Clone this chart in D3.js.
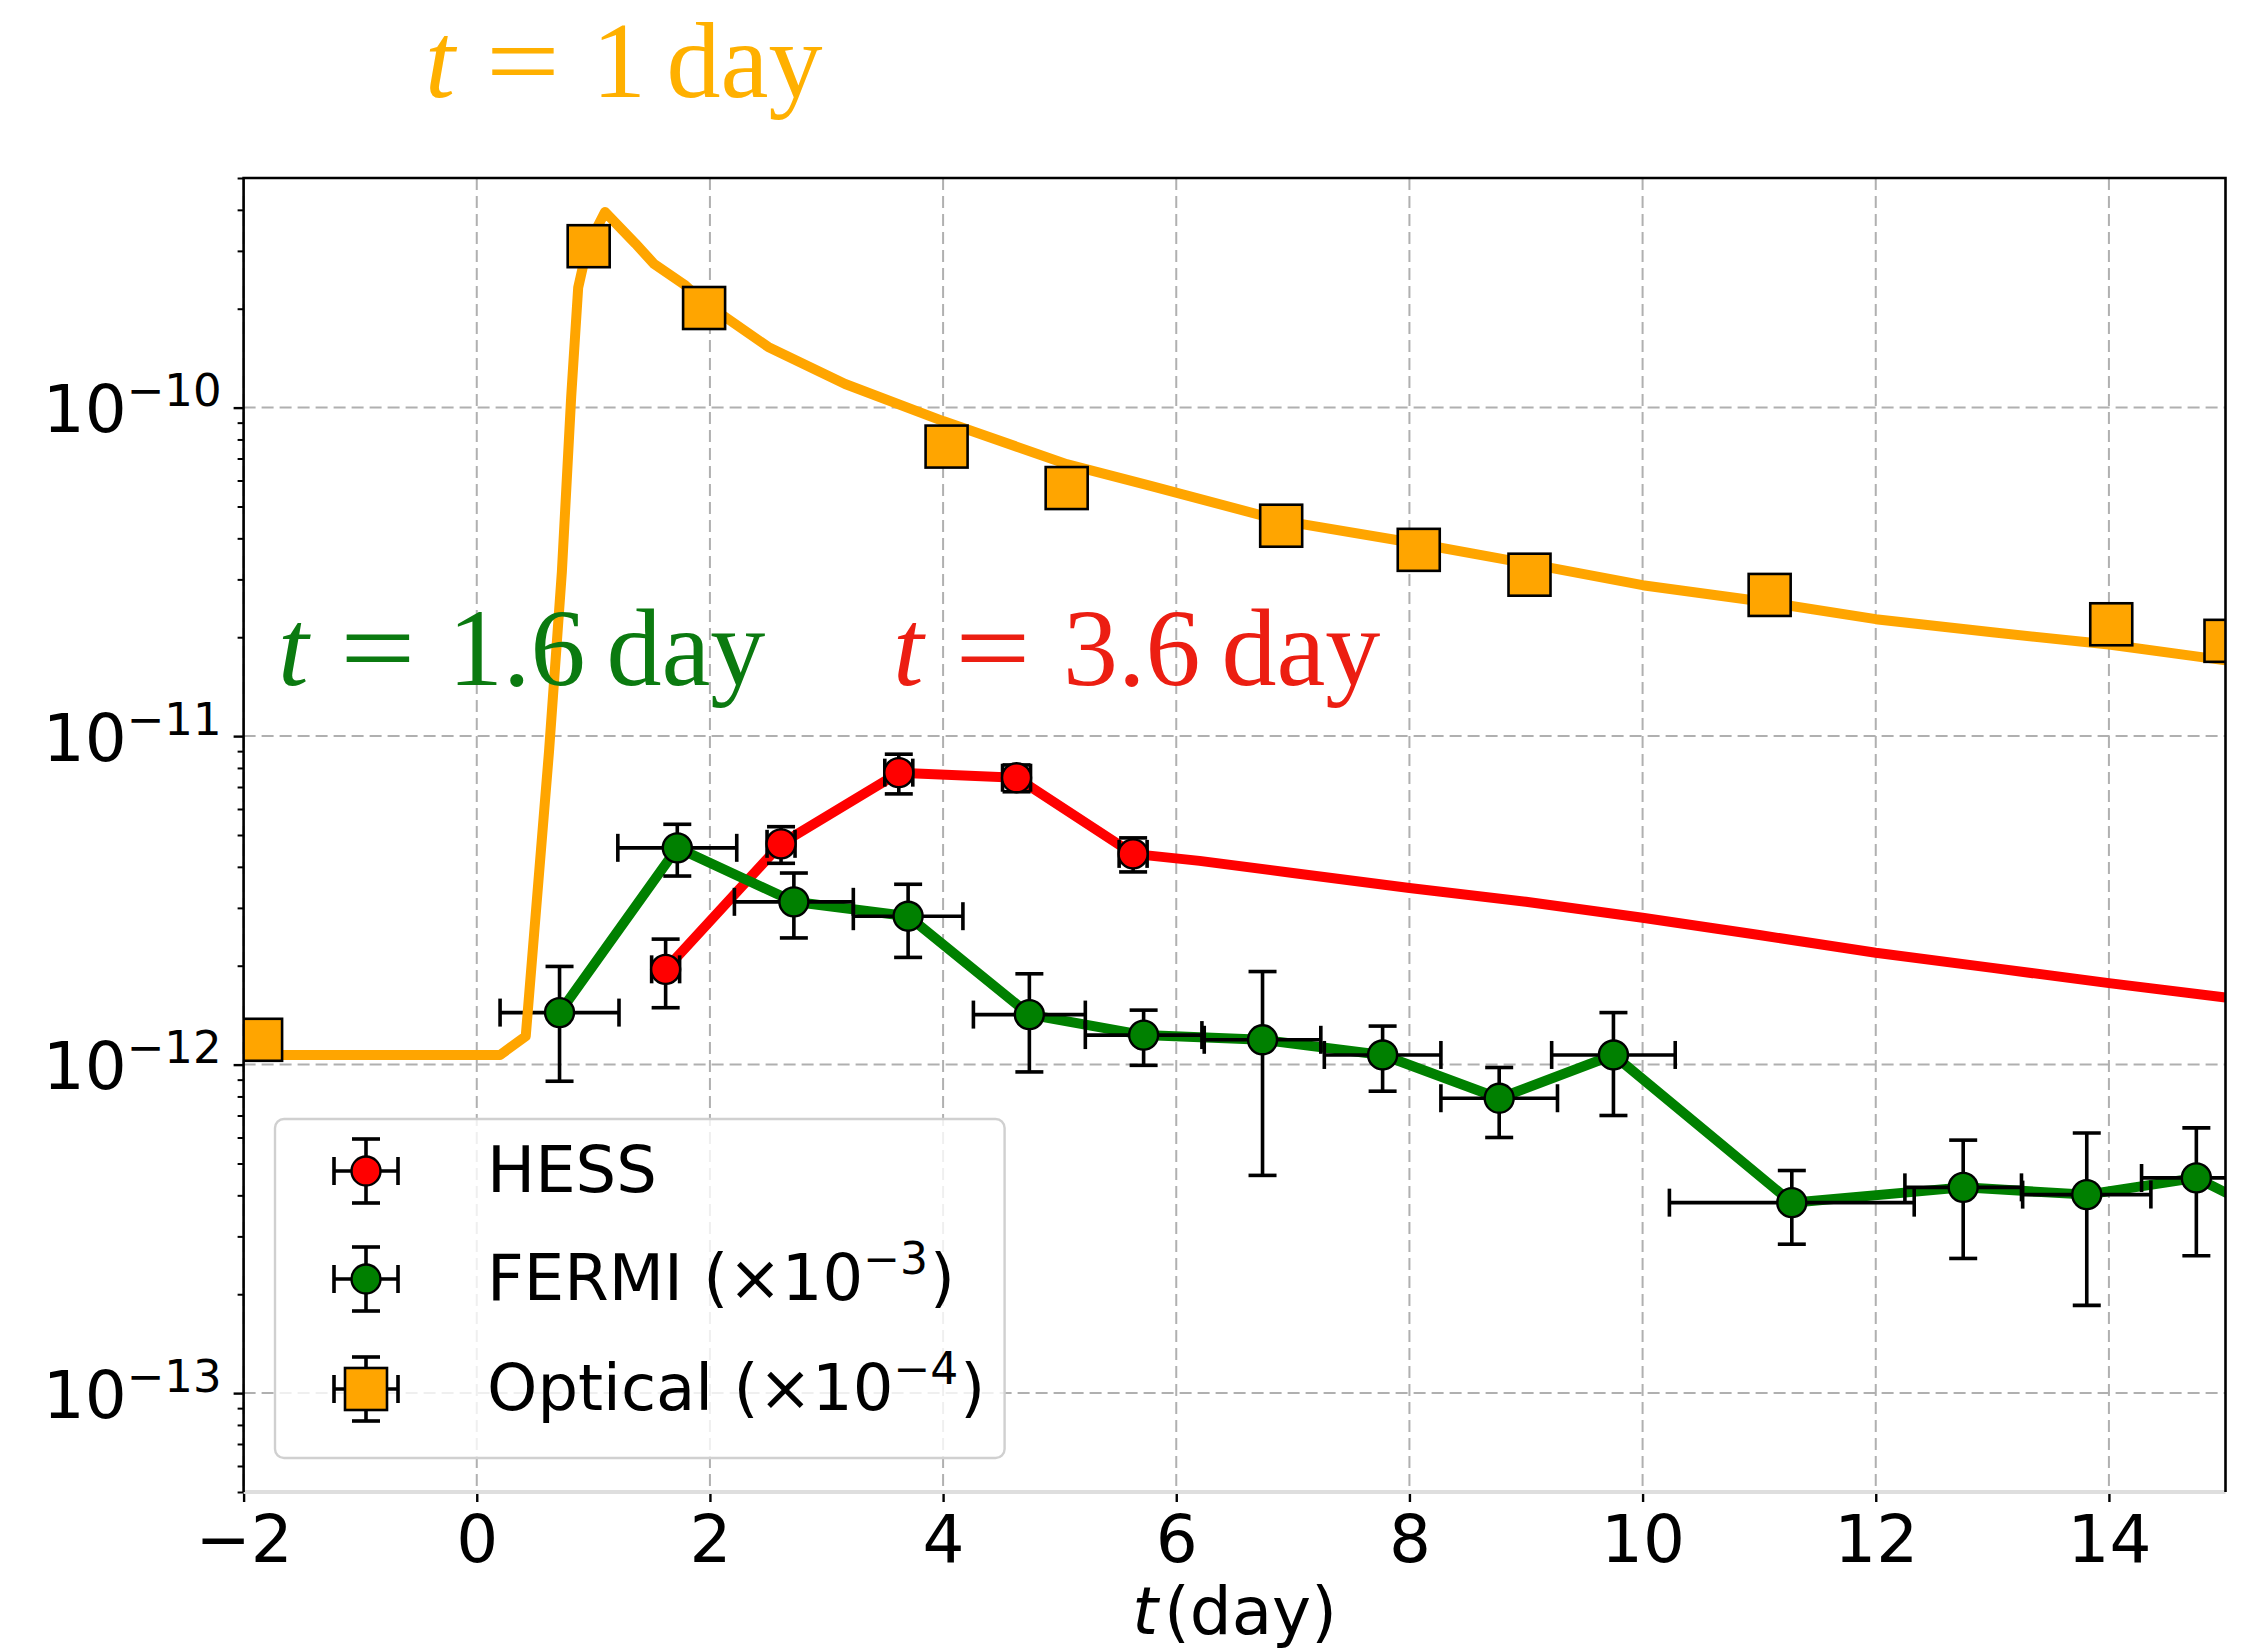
<!DOCTYPE html>
<html>
<head>
<meta charset="utf-8">
<script src="https://cdn.jsdelivr.net/npm/d3@7"></script>
<style>
  html, body { margin: 0; padding: 0; background: #ffffff; }
  svg { display: block; }
</style>
</head>
<body>
<script>
// ---- tick labels ----
const xTicks = [-2, 0, 2, 4, 6, 8, 10, 12, 14];
const yTickExps = [-13, -12, -11, -10];

// ---- optical light curve (x1e-4) ----
const optT = [-1.85, 0.96, 1.95, 4.03, 5.06, 6.90, 8.08, 9.03, 11.09, 14.02, 15.0];
const optF = [1.19e-12, 3.10e-10, 2.01e-10, 7.61e-11, 5.69e-11, 4.37e-11, 3.69e-11, 3.10e-11, 2.69e-11, 2.19e-11, 1.95e-11];

// optical model curve
const optModelT = [-2, 0.2, 0.42, 0.62, 0.73, 0.81, 0.87, 0.95, 1.10, 1.36, 1.52, 1.78, 1.95, 2.5, 3.16, 4.0, 5.06, 5.78, 6.9, 8.08, 9.02, 10.0, 11.09, 12.0, 13.0, 14.0, 15.0];
const optModelF = [1.07e-12, 1.07e-12, 1.22e-12, 9.0e-12, 3.16e-11, 1.08e-10, 2.32e-10, 3.10e-10, 3.94e-10, 3.16e-10, 2.74e-10, 2.37e-10, 2.09e-10, 1.53e-10, 1.18e-10, 9.1e-11, 6.73e-11, 5.78e-11, 4.53e-11, 3.85e-11, 3.35e-11, 2.88e-11, 2.55e-11, 2.27e-11, 2.07e-11, 1.90e-11, 1.70e-11];

// ---- HESS ----
const hessT = [1.62, 2.61, 3.62, 4.63, 5.63];
const hessF = [1.95e-12, 4.70e-12, 7.74e-12, 7.47e-12, 4.38e-12];
const hessTErr = [0.12, 0.12, 0.12, 0.12, 0.12];
const hessFErr = [0.46e-12, 0.60e-12, 1.07e-12, 0.70e-12, 0.52e-12];

// HESS model curve
const hessModelT = [1.62, 2.61, 3.62, 4.63, 5.63, 6.2, 7.0, 8.0, 9.0, 10.0, 11.0, 12.0, 13.0, 14.0, 15.0];
const hessModelF = [1.95e-12, 4.70e-12, 7.74e-12, 7.47e-12, 4.38e-12, 4.17e-12, 3.83e-12, 3.45e-12, 3.13e-12, 2.80e-12, 2.48e-12, 2.19e-12, 1.97e-12, 1.77e-12, 1.60e-12];

// ---- FERMI (x1e-3) ----
const fermiT = [0.71, 1.72, 2.72, 3.70, 4.74, 5.72, 6.74, 7.77, 8.77, 9.75, 11.28, 12.75, 13.81, 14.75, 15.75];
const fermiF = [1.44e-12, 4.57e-12, 3.13e-12, 2.83e-12, 1.42e-12, 1.23e-12, 1.19e-12, 1.07e-12, 7.9e-13, 1.07e-12, 3.8e-13, 4.23e-13, 4.02e-13, 4.52e-13, 3.0e-13];
const fermiTErr = [0.51, 0.51, 0.51, 0.47, 0.48, 0.50, 0.50, 0.50, 0.50, 0.53, 1.05, 0.50, 0.55, 0.47, 0.50];
const fermiFErr = [0.55e-12, 0.82e-12, 0.70e-12, 0.71e-12, 0.47e-12, 0.235e-12, 0.73e-12, 0.24e-12, 0.19e-12, 0.37e-12, 0.96e-13, 1.66e-13, 2.17e-13, 1.9e-13, 1.0e-13];

// ---- annotations ----
const annotations = [
  { num: "1",   color: "#FFB000", x0: 425, y: 97,  size: 108 },
  { num: "1.6", color: "#0B7A10", x0: 278, y: 685, size: 110 },
  { num: "3.6", color: "#EC1E12", x0: 893, y: 685, size: 110 }
];

const legendItems = [
  { label: "HESS",    pre: "",      sup: "",   color: "#FF0000", shape: "circle" },
  { label: "FERMI",   pre: " (×10", sup: "−3", color: "#008000", shape: "circle" },
  { label: "Optical", pre: " (×10", sup: "−4", color: "#FFA500", shape: "square" }
];

// ---- layout ----
const W = 2247, H = 1651;
const M = { left: 243.6, right: 2225.5, top: 178, bottom: 1492 };
const ORANGE = "#FFA500", GREEN = "#008000", RED = "#FF0000";
const LW = 10, EW = 3.6, CAP = 14, R = 14.5, SQ = 42;
const SANS = "'DejaVu Sans', sans-serif";
const SERIF = "'Liberation Serif', 'Times New Roman', serif";

const svg = d3.select("body").append("svg").attr("width", W).attr("height", H);

const x = d3.scaleLinear().domain([-2, 15]).range([M.left, M.right]);
const y = d3.scaleLog().domain([5e-14, 5e-10]).range([M.bottom, M.top]);

svg.append("defs").append("clipPath").attr("id", "plotclip")
  .append("rect").attr("x", M.left).attr("y", M.top)
  .attr("width", M.right - M.left).attr("height", M.bottom - M.top);

// ---- grid ----
const grid = svg.append("g").attr("stroke", "#b0b0b0").attr("stroke-width", 2).attr("stroke-dasharray", "12,6");
grid.selectAll("line.vx").data(xTicks).join("line")
  .attr("x1", d => x(d)).attr("x2", d => x(d)).attr("y1", M.top).attr("y2", M.bottom);
grid.selectAll("line.hy").data(yTickExps).join("line")
  .attr("y1", d => y(Math.pow(10, d))).attr("y2", d => y(Math.pow(10, d)))
  .attr("x1", M.left).attr("x2", M.right);

const plot = svg.append("g").attr("clip-path", "url(#plotclip)");
const line = d3.line().x(d => x(d[0])).y(d => y(d[1]));

// HESS model line
plot.append("path").datum(d3.zip(hessModelT, hessModelF)).attr("d", line)
  .attr("fill", "none").attr("stroke", RED).attr("stroke-width", LW).attr("stroke-linejoin", "round");
// FERMI line
plot.append("path").datum(d3.zip(fermiT, fermiF)).attr("d", line)
  .attr("fill", "none").attr("stroke", GREEN).attr("stroke-width", LW).attr("stroke-linejoin", "round");

function errorBars(g, T, F, TE, FE) {
  const eg = g.append("g").attr("stroke", "#000").attr("stroke-width", EW).attr("fill", "none");
  T.forEach((t, i) => {
    const cx = x(t), cy = y(F[i]);
    const yt = y(F[i] + FE[i]), yb = y(Math.max(F[i] - FE[i], 1e-16));
    const xl = x(t - TE[i]), xr = x(t + TE[i]);
    eg.append("line").attr("x1", cx).attr("x2", cx).attr("y1", yt).attr("y2", yb);
    eg.append("line").attr("x1", cx - CAP).attr("x2", cx + CAP).attr("y1", yt).attr("y2", yt);
    eg.append("line").attr("x1", cx - CAP).attr("x2", cx + CAP).attr("y1", yb).attr("y2", yb);
    eg.append("line").attr("x1", xl).attr("x2", xr).attr("y1", cy).attr("y2", cy);
    eg.append("line").attr("x1", xl).attr("x2", xl).attr("y1", cy - CAP).attr("y2", cy + CAP);
    eg.append("line").attr("x1", xr).attr("x2", xr).attr("y1", cy - CAP).attr("y2", cy + CAP);
  });
}

errorBars(plot, fermiT, fermiF, fermiTErr, fermiFErr);

// optical model line
plot.append("path").datum(d3.zip(optModelT, optModelF)).attr("d", line)
  .attr("fill", "none").attr("stroke", ORANGE).attr("stroke-width", LW).attr("stroke-linejoin", "round");

errorBars(plot, hessT, hessF, hessTErr, hessFErr);

plot.append("g").selectAll("circle").data(d3.zip(hessT, hessF)).join("circle")
  .attr("cx", d => x(d[0])).attr("cy", d => y(d[1])).attr("r", R)
  .attr("fill", RED).attr("stroke", "#000").attr("stroke-width", 2.4);

plot.append("g").selectAll("circle").data(d3.zip(fermiT, fermiF)).join("circle")
  .attr("cx", d => x(d[0])).attr("cy", d => y(d[1])).attr("r", R)
  .attr("fill", GREEN).attr("stroke", "#000").attr("stroke-width", 2.4);

plot.append("g").selectAll("rect").data(d3.zip(optT, optF)).join("rect")
  .attr("x", d => x(d[0]) - SQ / 2).attr("y", d => y(d[1]) - SQ / 2)
  .attr("width", SQ).attr("height", SQ)
  .attr("fill", ORANGE).attr("stroke", "#000").attr("stroke-width", 2.6);

// ---- axes ----
const xAxis = d3.axisBottom(x).tickValues(xTicks).tickSize(10).tickPadding(14)
  .tickFormat(d => d < 0 ? "\u2212" + Math.abs(d) : String(d));
const gx = svg.append("g").attr("transform", `translate(0,${M.bottom})`).call(xAxis);
gx.select(".domain").remove();
gx.selectAll(".tick line").attr("stroke", "#000").attr("stroke-width", 2.4);
gx.selectAll(".tick text").attr("font-family", SANS).attr("font-size", 66).attr("fill", "#000")
  .attr("dy", null).attr("y", 70);

// minor y ticks
const minorVals = [];
for (let e = -14; e <= -10; e++) for (let k = 2; k <= 9; k++) {
  const v = k * Math.pow(10, e);
  if (v >= 5e-14 && v <= 5e-10) minorVals.push(v);
}
const gyMinor = svg.append("g").attr("transform", `translate(${M.left},0)`)
  .call(d3.axisLeft(y).tickValues(minorVals).tickSize(6).tickFormat(""));
gyMinor.select(".domain").remove();
gyMinor.selectAll(".tick line").attr("stroke", "#000").attr("stroke-width", 2);

const gy = svg.append("g").attr("transform", `translate(${M.left},0)`)
  .call(d3.axisLeft(y).tickValues(yTickExps.map(e => Math.pow(10, e))).tickSize(10).tickFormat(""));
gy.select(".domain").remove();
gy.selectAll(".tick line").attr("stroke", "#000").attr("stroke-width", 2.4);
gy.selectAll(".tick").each(function (d) {
  const e = Math.round(Math.log10(d));
  const t = d3.select(this).append("text").attr("x", -22).attr("y", 24)
    .attr("text-anchor", "end").attr("font-family", SANS).attr("fill", "#000");
  t.append("tspan").attr("font-size", 66).text("10");
  t.append("tspan").attr("font-size", 45).attr("dy", -26).text("\u2212" + Math.abs(e));
});

// spines
svg.append("line").attr("x1", M.left).attr("x2", M.right).attr("y1", M.bottom).attr("y2", M.bottom)
  .attr("stroke", "#dedede").attr("stroke-width", 4);
svg.append("path")
  .attr("d", `M${M.left},${M.bottom}V${M.top}H${M.right}V${M.bottom}`)
  .attr("fill", "none").attr("stroke", "#000").attr("stroke-width", 2.6);

// x label
const xl = svg.append("text").attr("x", (M.left + M.right) / 2).attr("y", 1634)
  .attr("text-anchor", "middle").attr("font-family", SANS).attr("font-size", 66).attr("fill", "#000");
xl.append("tspan").attr("font-style", "italic").text("t");
xl.append("tspan").attr("dx", 6).text("(day)");

// ---- legend ----
const lg = svg.append("g");
lg.append("rect").attr("x", 275).attr("y", 1119).attr("width", 729.6).attr("height", 339)
  .attr("rx", 9).attr("fill", "#fff").attr("fill-opacity", 0.8)
  .attr("stroke", "#d0d0d0").attr("stroke-width", 2.4);
const rowY = [1171, 1279, 1389];
legendItems.forEach((it, i) => {
  const cx = 366, cy = rowY[i], L = 32;
  const g = lg.append("g");
  const eg = g.append("g").attr("stroke", "#000").attr("stroke-width", EW);
  eg.append("line").attr("x1", cx).attr("x2", cx).attr("y1", cy - L).attr("y2", cy + L);
  eg.append("line").attr("x1", cx - CAP).attr("x2", cx + CAP).attr("y1", cy - L).attr("y2", cy - L);
  eg.append("line").attr("x1", cx - CAP).attr("x2", cx + CAP).attr("y1", cy + L).attr("y2", cy + L);
  eg.append("line").attr("x1", cx - L).attr("x2", cx + L).attr("y1", cy).attr("y2", cy);
  eg.append("line").attr("x1", cx - L).attr("x2", cx - L).attr("y1", cy - CAP).attr("y2", cy + CAP);
  eg.append("line").attr("x1", cx + L).attr("x2", cx + L).attr("y1", cy - CAP).attr("y2", cy + CAP);
  if (it.shape === "circle") {
    g.append("circle").attr("cx", cx).attr("cy", cy).attr("r", R)
      .attr("fill", it.color).attr("stroke", "#000").attr("stroke-width", 2.4);
  } else {
    g.append("rect").attr("x", cx - SQ / 2).attr("y", cy - SQ / 2).attr("width", SQ).attr("height", SQ)
      .attr("fill", it.color).attr("stroke", "#000").attr("stroke-width", 2.6);
  }
  const t = g.append("text").attr("x", 487).attr("y", cy + 21)
    .attr("font-family", SANS).attr("font-size", 64).attr("fill", "#000");
  t.append("tspan").text(it.label);
  if (it.sup) {
    t.append("tspan").attr("xml:space", "preserve").text(it.pre);
    t.append("tspan").attr("font-size", 44).attr("dy", -26).text(it.sup);
    t.append("tspan").attr("font-size", 64).attr("dy", 26).attr("dx", 2).text(")");
  }
});

// ---- annotations: "t = N day" ----
annotations.forEach(a => {
  const g = svg.append("g").attr("font-family", SERIF).attr("font-size", a.size).attr("fill", a.color);
  const k = a.size / 110;
  g.append("text").attr("x", a.x0).attr("y", a.y).attr("font-style", "italic").text("t");
  // the relation sign is drawn slightly wider, as in math typesetting
  g.append("text").attr("transform", `translate(${a.x0 + 62 * k},${a.y}) scale(1.22,1)`).text("=");
  const n = g.append("text").attr("x", a.x0 + 170 * k).attr("y", a.y);
  n.append("tspan").text(a.num);
  n.append("tspan").attr("dx", 21 * k).text("day");
});
</script>
</body>
</html>
